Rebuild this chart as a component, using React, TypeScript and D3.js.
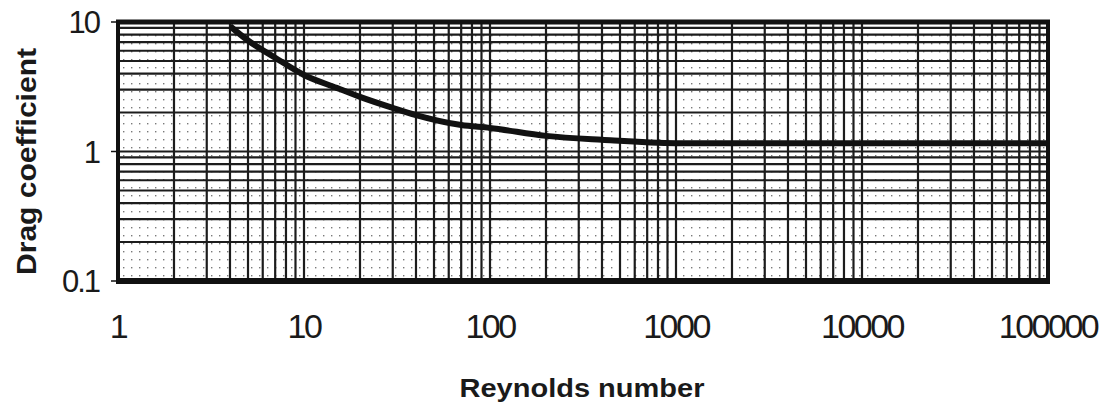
import React from 'react'
import * as d3 from 'd3'

// curve
const reynolds = [4, 5, 7, 10, 15, 20, 30, 40, 70, 100, 200, 400, 1000, 10000, 100000]
const drag = [9.3, 7.2, 5.3, 3.9, 3.1, 2.64, 2.17, 1.91, 1.6, 1.52, 1.32, 1.23, 1.16, 1.16, 1.16]

const xTicks = [1, 10, 100, 1000, 10000, 100000]
const xTickLabels = ['1', '10', '100', '1000', '10000', '100000']
const yTicks = [0.1, 1, 10]
const yTickLabels = ['0.1', '1', '10']

const W = 1107
const H = 409
const margin = { left: 118, right: 59, top: 22, bottom: 128 }

const x = d3.scaleLog().domain([1, 100000]).range([margin.left, W - margin.right])
const y = d3.scaleLog().domain([0.1, 10]).range([H - margin.bottom, margin.top])

const gridVals = (lo: number, hi: number) => {
    const out: number[] = []
    for (let d = lo; d < hi; d *= 10) {
        for (let k = 2; k <= 9; k++) out.push(d * k)
    }
    return out
}

const xGrid = gridVals(1, 100000)
const yGrid = gridVals(0.1, 10)

const font = '"Liberation Sans", Arial, sans-serif'

export default function App() {
    const line = d3
        .line<number>()
        .x((d, i) => x(reynolds[i]))
        .y(d => y(d))
        .curve(d3.curveMonotoneX)

    const [x0, x1] = x.range()
    const [y0, y1] = y.range()

    return (
        <svg width={W} height={H} style={{ position: 'absolute', left: 0, top: 0, background: '#fff' }}>
            <defs>
                <pattern id="dots" width={8} height={8} patternUnits="userSpaceOnUse" x={x0 + 2} y={y1 + 2}>
                    <rect x={3} y={3} width={1.4} height={1.4} fill="#7a7a7a" />
                </pattern>
                <clipPath id="plot">
                    <rect x={x0} y={y1} width={x1 - x0} height={y0 - y1} />
                </clipPath>
            </defs>

            <rect x={x0} y={y1} width={x1 - x0} height={y0 - y1} fill="url(#dots)" />

            <g stroke="#1c1c1c" strokeWidth={2.2}>
                {xGrid.map(v => (
                    <line key={'x' + v} x1={x(v)} x2={x(v)} y1={y1} y2={y0} />
                ))}
                {xTicks.map(v => (
                    <line key={'xm' + v} x1={x(v)} x2={x(v)} y1={y1} y2={y0} />
                ))}
                {yGrid.map(v => (
                    <line key={'y' + v} x1={x0} x2={x1} y1={y(v)} y2={y(v)} />
                ))}
                {yTicks.map(v => (
                    <line key={'ym' + v} x1={x0} x2={x1} y1={y(v)} y2={y(v)} />
                ))}
            </g>

            {/* frame */}
            <g stroke="#111" fill="none">
                <line x1={x0 - 2} x2={x1 + 2} y1={y1} y2={y1} strokeWidth={5} />
                <line x1={x0 - 2} x2={x1 + 2} y1={y0} y2={y0} strokeWidth={6} />
                <line x1={x0} x2={x0} y1={y1} y2={y0} strokeWidth={4} />
                <line x1={x1} x2={x1} y1={y1} y2={y0} strokeWidth={4} />
                {yTicks.map(v => (
                    <line key={'t' + v} x1={x0 - 7} x2={x0} y1={y(v)} y2={y(v)} strokeWidth={1.5} />
                ))}
            </g>

            <path d={line(drag) || ''} fill="none" stroke="#111" strokeWidth={6} clipPath="url(#plot)" />

            <g fontFamily={font} fill="#1a1a1a">
                {yTicks.map((v, i) => (
                    <text key={'yl' + v} x={99} y={y(v) + 11} fontSize={31} textAnchor="end" letterSpacing={-2}>
                        {yTickLabels[i]}
                    </text>
                ))}
                {xTicks.map((v, i) => (
                    <text key={'xl' + v} x={x(v)} y={338} fontSize={34} textAnchor="middle" letterSpacing={-2.5}>
                        {xTickLabels[i]}
                    </text>
                ))}
                <text x={582} y={397} fontSize={26} fontWeight="bold" textAnchor="middle" textLength={245} lengthAdjust="spacingAndGlyphs">
                    Reynolds number
                </text>
                <text
                    transform={`translate(36,${(y0 + y1) / 2 + 10}) rotate(-90)`}
                    fontSize={27}
                    fontWeight="bold"
                    textAnchor="middle"
                    textLength={227}
                    lengthAdjust="spacingAndGlyphs"
                >
                    Drag coefficient
                </text>
            </g>
        </svg>
    )
}
